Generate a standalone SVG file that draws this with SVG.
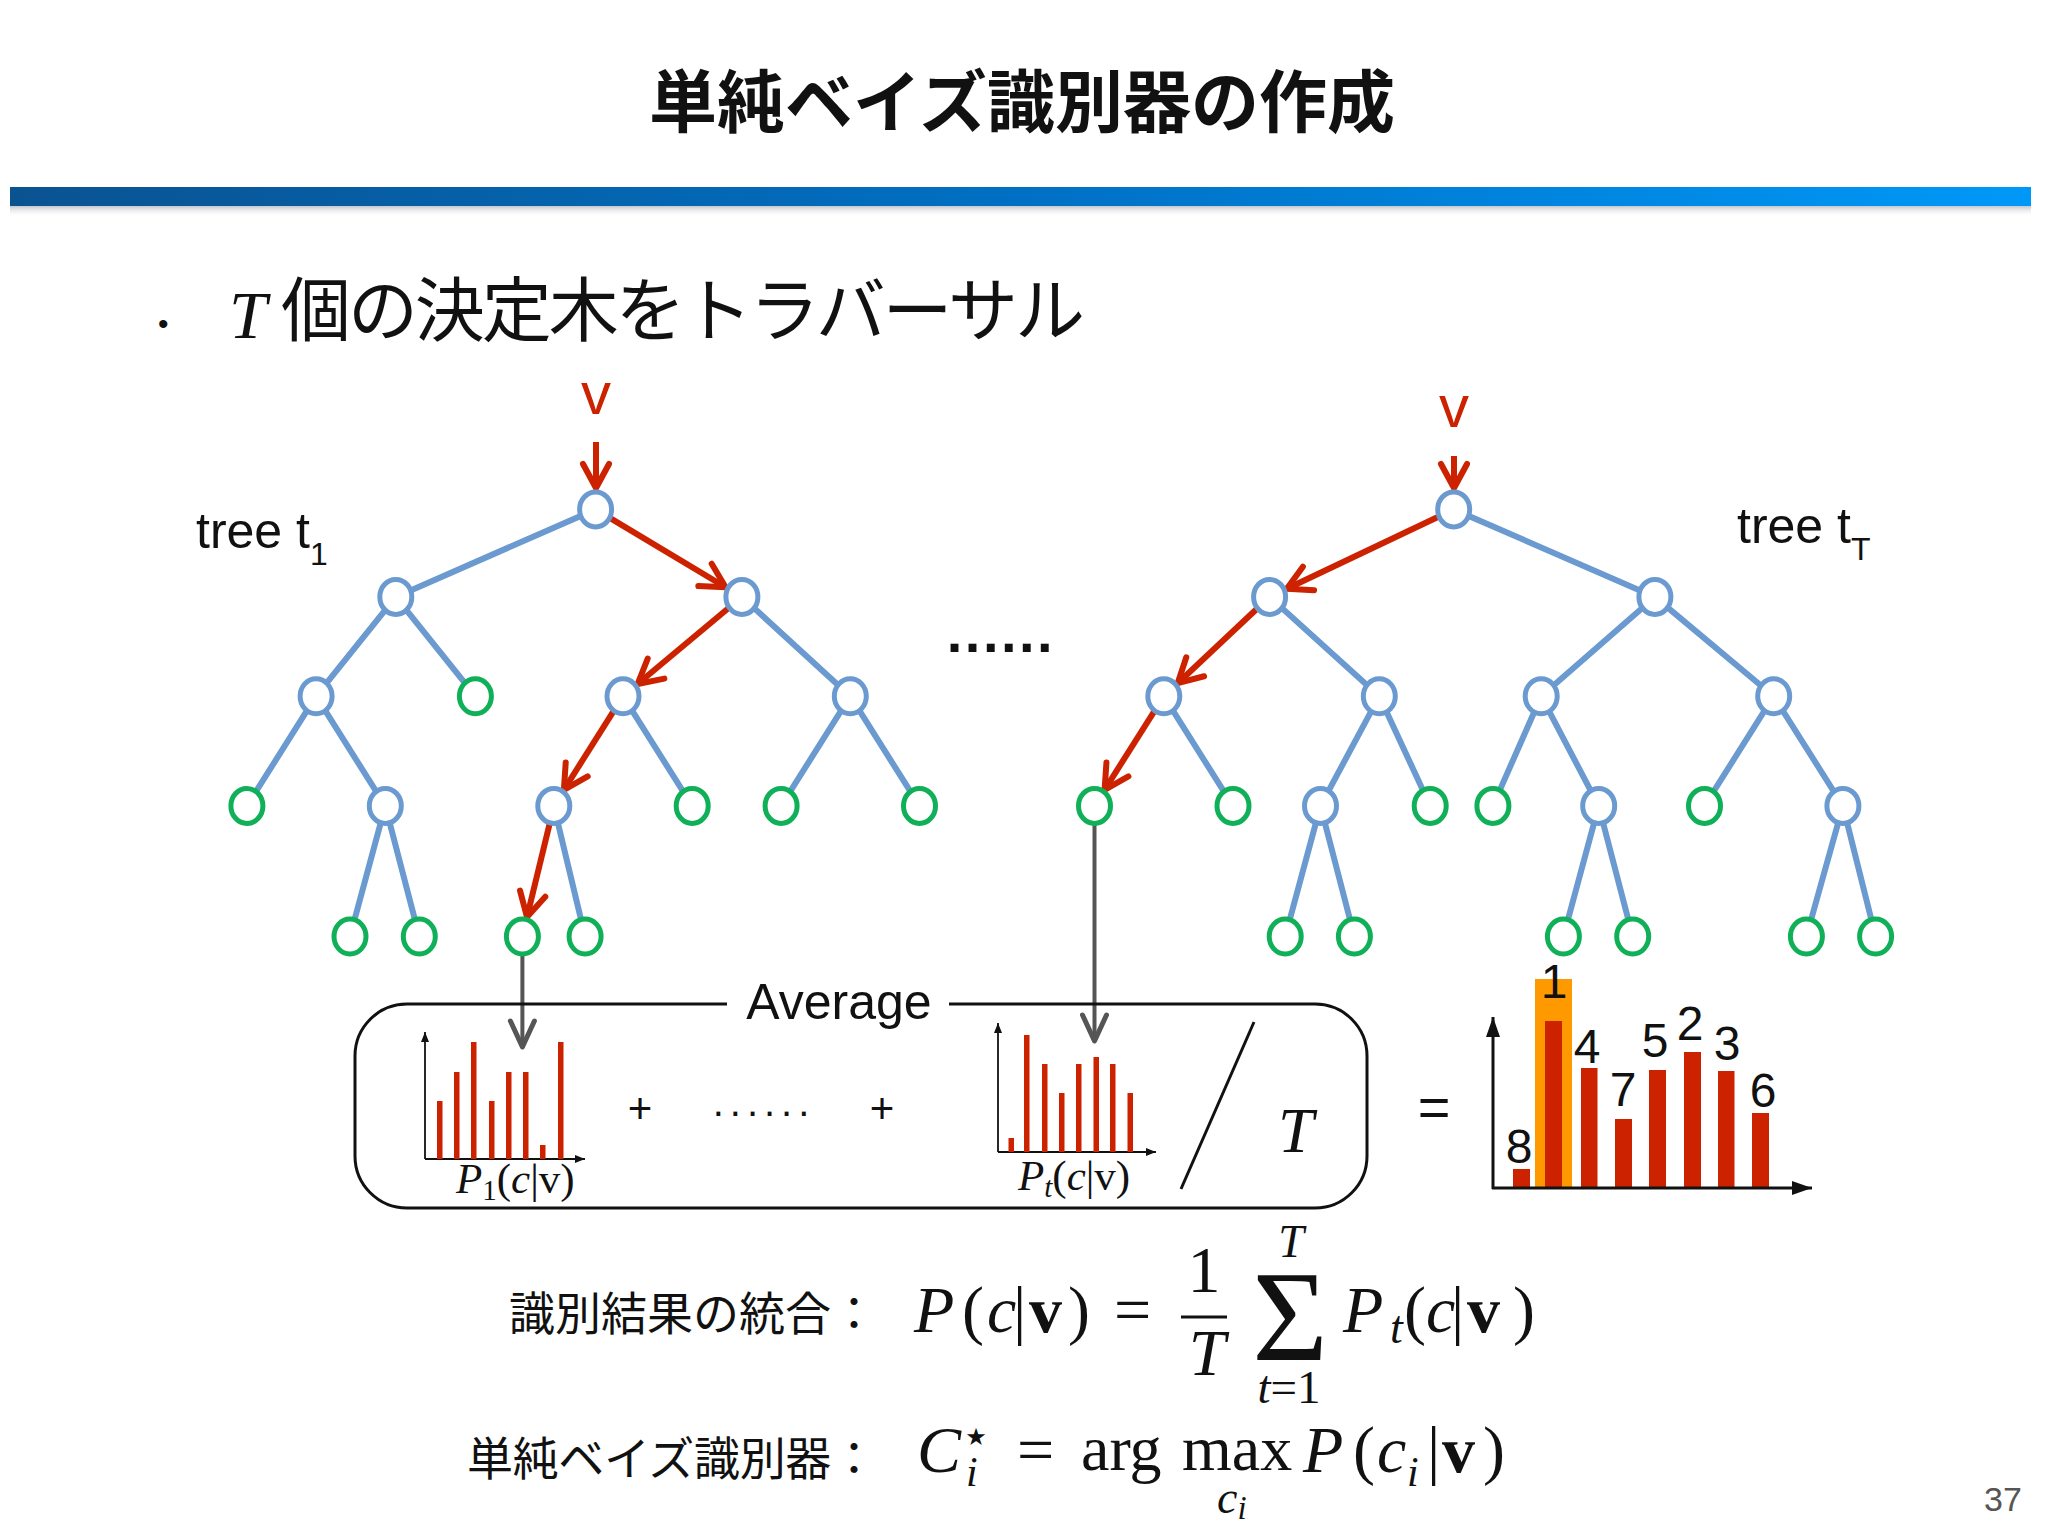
<svg xmlns="http://www.w3.org/2000/svg" width="2048" height="1536" viewBox="0 0 2048 1536">
<defs>
<linearGradient id="bar" x1="0" y1="0" x2="1" y2="0">
<stop offset="0" stop-color="#0a5391"/>
<stop offset="0.5" stop-color="#0070c4"/>
<stop offset="1" stop-color="#0098f8"/>
</linearGradient>
<linearGradient id="shadow" x1="0" y1="0" x2="0" y2="1">
<stop offset="0" stop-color="#9aa0a8" stop-opacity="0.7"/>
<stop offset="1" stop-color="#ffffff" stop-opacity="0"/>
</linearGradient>
<marker id="ar" viewBox="-30 -16 36 32" markerUnits="userSpaceOnUse" markerWidth="36" markerHeight="32" refX="0" refY="0" orient="auto" overflow="visible">
<path d="M-24,-13 L0,0 L-24,13" fill="none" stroke="#cc2200" stroke-width="6" stroke-linecap="round" stroke-linejoin="round"/>
</marker>
<marker id="ag" viewBox="-30 -16 36 32" markerUnits="userSpaceOnUse" markerWidth="36" markerHeight="32" refX="0" refY="0" orient="auto" overflow="visible">
<path d="M-26,-12 L0,0 L-26,12" fill="none" stroke="#555555" stroke-width="5" stroke-linecap="round" stroke-linejoin="round"/>
</marker>
<marker id="ax" viewBox="-12 -6 14 12" markerUnits="userSpaceOnUse" markerWidth="14" markerHeight="12" refX="0" refY="0" orient="auto" overflow="visible">
<path d="M0,0 L-10,-4 L-10,4 Z" fill="#111"/>
</marker>
<marker id="axb" viewBox="-22 -10 24 20" markerUnits="userSpaceOnUse" markerWidth="24" markerHeight="20" refX="0" refY="0" orient="auto" overflow="visible">
<path d="M0,0 L-20,-7 L-20,7 Z" fill="#111"/>
</marker>
<style>
.jp{font-family:'Liberation Sans','Noto Sans CJK JP',sans-serif;fill:#111}
.sans{font-family:'Liberation Sans',Arial,sans-serif;fill:#111}
.m{font-family:'Liberation Serif','Times New Roman',serif;fill:#111}
.it{font-style:italic}
.bf{font-weight:bold}
.in{fill:#fff;stroke:#6a9ad0;stroke-width:5}
.lf{fill:#fff;stroke:#10b058;stroke-width:5}
.e{stroke:#6a9ad0;stroke-width:6;fill:none;stroke-linecap:round}
.r{stroke:#cc2200;stroke-width:6;fill:none;marker-end:url(#ar)}
.g{stroke:#555;stroke-width:4;fill:none;marker-end:url(#ag)}
.bar{fill:#cc2200}
.axis{stroke:#111;stroke-width:1.8;fill:none;marker-end:url(#ax)}
.axisb{stroke:#111;stroke-width:3;fill:none;marker-end:url(#axb)}
</style>
</defs>
<rect width="2048" height="1536" fill="#fff"/>

<!-- title -->
<text class="jp" x="1022" y="127" font-size="68" font-weight="bold" text-anchor="middle">単純ベイズ識別器の作成</text>
<rect x="10" y="205" width="2021" height="12" fill="url(#shadow)"/>
<rect x="10" y="187" width="2021" height="19" fill="url(#bar)"/>

<!-- bullet line -->
<text class="sans" x="158" y="334" font-size="30">•</text>
<text class="m it" x="229" y="338" font-size="68">T</text>
<text class="jp" x="281" y="336" font-size="70" textLength="804" lengthAdjust="spacing">個の決定木をトラバーサル</text>

<!-- tree labels -->
<text class="sans" x="196" y="548" font-size="50">tree t<tspan font-size="32" dy="17">1</tspan></text>
<text class="sans" x="1737" y="543" font-size="50">tree t<tspan font-size="32" dy="17">T</tspan></text>
<text class="sans" x="596" y="414" font-size="60" style="fill:#cc2200" text-anchor="middle">v</text>
<text class="sans" x="1454" y="427" font-size="60" style="fill:#cc2200" text-anchor="middle">v</text>
<text class="sans bf" x="1001" y="652" font-size="56" text-anchor="middle" letter-spacing="2.5">......</text>

<!-- connectors -->
<g id="connectors">
<g id="edges-t1">
<line class="e" x1="595.6" y1="509.4" x2="395.8" y2="596.9"/>
<line class="e" x1="395.8" y1="596.9" x2="316.1" y2="696.2"/>
<line class="e" x1="395.8" y1="596.9" x2="475.4" y2="696.2"/>
<line class="e" x1="741.9" y1="596.9" x2="850.3" y2="696.2"/>
<line class="e" x1="316.1" y1="696.2" x2="246.9" y2="805.9"/>
<line class="e" x1="316.1" y1="696.2" x2="385.3" y2="805.9"/>
<line class="e" x1="623.0" y1="696.2" x2="692.2" y2="805.9"/>
<line class="e" x1="850.3" y1="696.2" x2="781.1" y2="805.9"/>
<line class="e" x1="850.3" y1="696.2" x2="919.5" y2="805.9"/>
<line class="e" x1="385.3" y1="805.9" x2="350.0" y2="936.5"/>
<line class="e" x1="385.3" y1="805.9" x2="419.3" y2="936.5"/>
<line class="e" x1="553.8" y1="805.9" x2="585.1" y2="936.5"/>
</g>
<g id="edges-tT">
<line class="e" x1="1453.7" y1="509.4" x2="1654.9" y2="596.9"/>
<line class="e" x1="1269.6" y1="596.9" x2="1379.3" y2="696.2"/>
<line class="e" x1="1654.9" y1="596.9" x2="1541.2" y2="696.2"/>
<line class="e" x1="1654.9" y1="596.9" x2="1773.7" y2="696.2"/>
<line class="e" x1="1163.8" y1="696.2" x2="1233.0" y2="805.9"/>
<line class="e" x1="1379.3" y1="696.2" x2="1320.5" y2="805.9"/>
<line class="e" x1="1379.3" y1="696.2" x2="1430.2" y2="805.9"/>
<line class="e" x1="1541.2" y1="696.2" x2="1492.9" y2="805.9"/>
<line class="e" x1="1541.2" y1="696.2" x2="1598.7" y2="805.9"/>
<line class="e" x1="1773.7" y1="696.2" x2="1704.5" y2="805.9"/>
<line class="e" x1="1773.7" y1="696.2" x2="1842.9" y2="805.9"/>
<line class="e" x1="1320.5" y1="805.9" x2="1285.2" y2="936.5"/>
<line class="e" x1="1320.5" y1="805.9" x2="1354.4" y2="936.5"/>
<line class="e" x1="1598.7" y1="805.9" x2="1563.4" y2="936.5"/>
<line class="e" x1="1598.7" y1="805.9" x2="1632.7" y2="936.5"/>
<line class="e" x1="1842.9" y1="805.9" x2="1806.4" y2="936.5"/>
<line class="e" x1="1842.9" y1="805.9" x2="1875.6" y2="936.5"/>
</g>
<g id="path-t1">
<line class="r" x1="596" y1="442" x2="596" y2="488"/>
<line class="r" x1="610.2" y1="518.1" x2="725.6" y2="587.2"/>
<line class="r" x1="728.9" y1="607.8" x2="637.6" y2="684.0"/>
<line class="r" x1="613.9" y1="710.6" x2="563.9" y2="789.8"/>
<line class="r" x1="549.8" y1="823" x2="527" y2="917"/>
</g>
<g id="path-tT">
<line class="r" x1="1454" y1="456" x2="1454" y2="488"/>
<line class="r" x1="1438.4" y1="516.7" x2="1286.8" y2="588.7"/>
<line class="r" x1="1257.2" y1="608.5" x2="1177.7" y2="683.2"/>
<line class="r" x1="1154.7" y1="710.6" x2="1104.6" y2="789.8"/>
</g>
<g id="to-hist">
<line class="g" x1="522.4" y1="955" x2="522.4" y2="1047"/>
<line class="g" x1="1094.5" y1="825" x2="1094.5" y2="1041"/>
</g>
</g>

<!-- tree 1 nodes -->
<g id="tree1">
<g id="t1-n0"><ellipse class="in" cx="595.6" cy="509.4" rx="16" ry="17.5"/></g>
<g id="t1-n1"><ellipse class="in" cx="395.8" cy="596.9" rx="16" ry="17.5"/></g>
<g id="t1-n2"><ellipse class="in" cx="741.9" cy="596.9" rx="16" ry="17.5"/></g>
<g id="t1-n3"><ellipse class="in" cx="316.1" cy="696.2" rx="16" ry="17.5"/></g>
<g id="t1-n4"><ellipse class="lf" cx="475.4" cy="696.2" rx="16" ry="17.5"/></g>
<g id="t1-n5"><ellipse class="in" cx="623.0" cy="696.2" rx="16" ry="17.5"/></g>
<g id="t1-n6"><ellipse class="in" cx="850.3" cy="696.2" rx="16" ry="17.5"/></g>
<g id="t1-n7"><ellipse class="lf" cx="246.9" cy="805.9" rx="16" ry="17.5"/></g>
<g id="t1-n8"><ellipse class="in" cx="385.3" cy="805.9" rx="16" ry="17.5"/></g>
<g id="t1-n9"><ellipse class="in" cx="553.8" cy="805.9" rx="16" ry="17.5"/></g>
<g id="t1-n10"><ellipse class="lf" cx="692.2" cy="805.9" rx="16" ry="17.5"/></g>
<g id="t1-n11"><ellipse class="lf" cx="781.1" cy="805.9" rx="16" ry="17.5"/></g>
<g id="t1-n12"><ellipse class="lf" cx="919.5" cy="805.9" rx="16" ry="17.5"/></g>
<g id="t1-n13"><ellipse class="lf" cx="350.0" cy="936.5" rx="16" ry="17.5"/></g>
<g id="t1-n14"><ellipse class="lf" cx="419.3" cy="936.5" rx="16" ry="17.5"/></g>
<g id="t1-n15"><ellipse class="lf" cx="522.4" cy="936.5" rx="16" ry="17.5"/></g>
<g id="t1-n16"><ellipse class="lf" cx="585.1" cy="936.5" rx="16" ry="17.5"/></g>
</g>

<!-- tree T nodes -->
<g id="treeT">
<g id="tT-n0"><ellipse class="in" cx="1453.7" cy="509.4" rx="16" ry="17.5"/></g>
<g id="tT-n1"><ellipse class="in" cx="1269.6" cy="596.9" rx="16" ry="17.5"/></g>
<g id="tT-n2"><ellipse class="in" cx="1654.9" cy="596.9" rx="16" ry="17.5"/></g>
<g id="tT-n3"><ellipse class="in" cx="1163.8" cy="696.2" rx="16" ry="17.5"/></g>
<g id="tT-n4"><ellipse class="in" cx="1379.3" cy="696.2" rx="16" ry="17.5"/></g>
<g id="tT-n5"><ellipse class="in" cx="1541.2" cy="696.2" rx="16" ry="17.5"/></g>
<g id="tT-n6"><ellipse class="in" cx="1773.7" cy="696.2" rx="16" ry="17.5"/></g>
<g id="tT-n7"><ellipse class="lf" cx="1094.5" cy="805.9" rx="16" ry="17.5"/></g>
<g id="tT-n8"><ellipse class="lf" cx="1233.0" cy="805.9" rx="16" ry="17.5"/></g>
<g id="tT-n9"><ellipse class="in" cx="1320.5" cy="805.9" rx="16" ry="17.5"/></g>
<g id="tT-n10"><ellipse class="lf" cx="1430.2" cy="805.9" rx="16" ry="17.5"/></g>
<g id="tT-n11"><ellipse class="lf" cx="1492.9" cy="805.9" rx="16" ry="17.5"/></g>
<g id="tT-n12"><ellipse class="in" cx="1598.7" cy="805.9" rx="16" ry="17.5"/></g>
<g id="tT-n13"><ellipse class="lf" cx="1704.5" cy="805.9" rx="16" ry="17.5"/></g>
<g id="tT-n14"><ellipse class="in" cx="1842.9" cy="805.9" rx="16" ry="17.5"/></g>
<g id="tT-n15"><ellipse class="lf" cx="1285.2" cy="936.5" rx="16" ry="17.5"/></g>
<g id="tT-n16"><ellipse class="lf" cx="1354.4" cy="936.5" rx="16" ry="17.5"/></g>
<g id="tT-n17"><ellipse class="lf" cx="1563.4" cy="936.5" rx="16" ry="17.5"/></g>
<g id="tT-n18"><ellipse class="lf" cx="1632.7" cy="936.5" rx="16" ry="17.5"/></g>
<g id="tT-n19"><ellipse class="lf" cx="1806.4" cy="936.5" rx="16" ry="17.5"/></g>
<g id="tT-n20"><ellipse class="lf" cx="1875.6" cy="936.5" rx="16" ry="17.5"/></g>
</g>

<!-- average box -->
<g id="average-box">
<rect x="355" y="1004" width="1012" height="204" rx="52" fill="none" stroke="#111" stroke-width="3"/>
<rect x="727" y="994" width="222" height="22" fill="#fff"/>
<text class="sans" x="839" y="1019" font-size="50" text-anchor="middle">Average</text>
</g>

<!-- histogram 1 -->
<g id="hist-1">
<line class="axis" x1="425" y1="1159" x2="425" y2="1032"/>
<line class="axis" x1="425" y1="1159" x2="585" y2="1159"/>
<rect class="bar" x="437" y="1101" width="5.5" height="58"/>
<rect class="bar" x="454" y="1072" width="5.5" height="87"/>
<rect class="bar" x="471" y="1042" width="5.5" height="117"/>
<rect class="bar" x="489" y="1101" width="5.5" height="58"/>
<rect class="bar" x="506" y="1072" width="5.5" height="87"/>
<rect class="bar" x="523" y="1072" width="5.5" height="87"/>
<rect class="bar" x="540" y="1145" width="5.5" height="14"/>
<rect class="bar" x="558" y="1042" width="5.5" height="117"/>
<text class="m" x="456" y="1193" font-size="43"><tspan class="it">P</tspan><tspan font-size="29" dy="7">1</tspan><tspan dy="-7">(</tspan><tspan class="it">c</tspan>|v)</text>
</g>

<text class="sans" x="640" y="1123" font-size="42" text-anchor="middle">+</text>
<text class="sans" x="764" y="1116" font-size="40" text-anchor="middle" letter-spacing="6">......</text>
<text class="sans" x="882" y="1123" font-size="42" text-anchor="middle">+</text>

<!-- histogram t -->
<g id="hist-t">
<line class="axis" x1="998" y1="1152" x2="998" y2="1023"/>
<line class="axis" x1="998" y1="1152" x2="1156" y2="1152"/>
<rect class="bar" x="1008.5" y="1138" width="5.5" height="14"/>
<rect class="bar" x="1024" y="1035" width="5.5" height="117"/>
<rect class="bar" x="1042" y="1064" width="5.5" height="88"/>
<rect class="bar" x="1059" y="1093" width="5.5" height="59"/>
<rect class="bar" x="1076" y="1064" width="5.5" height="88"/>
<rect class="bar" x="1093.5" y="1057" width="5.5" height="95"/>
<rect class="bar" x="1110" y="1064" width="5.5" height="88"/>
<rect class="bar" x="1127.5" y="1093" width="5.5" height="59"/>
<text class="m" x="1018" y="1190" font-size="43"><tspan class="it">P</tspan><tspan class="it" font-size="29" dy="7">t</tspan><tspan dy="-7">(</tspan><tspan class="it">c</tspan>|v)</text>
</g>

<line x1="1254" y1="1022" x2="1181" y2="1189" stroke="#111" stroke-width="3"/>
<text class="m it" x="1278" y="1152" font-size="64">T</text>

<text class="sans" x="1434" y="1126" font-size="56" text-anchor="middle">=</text>

<!-- result histogram -->
<g id="hist-result">
<rect x="1535" y="979" width="37" height="209" fill="#ff9900"/>
<rect class="bar" x="1513" y="1169" width="17" height="19"/>
<rect class="bar" x="1545" y="1021" width="17" height="167"/>
<rect class="bar" x="1581" y="1068" width="16.5" height="120"/>
<rect class="bar" x="1615" y="1119" width="17" height="69"/>
<rect class="bar" x="1649" y="1070" width="17" height="118"/>
<rect class="bar" x="1684" y="1052" width="17" height="136"/>
<rect class="bar" x="1718" y="1071" width="16.5" height="117"/>
<rect class="bar" x="1752" y="1113" width="17" height="75"/>
<line class="axisb" x1="1493" y1="1189" x2="1493" y2="1017"/>
<line class="axisb" x1="1492" y1="1188" x2="1812" y2="1188"/>
<g class="sans" font-size="48" text-anchor="middle">
<text x="1519" y="1163">8</text>
<text x="1554" y="998">1</text>
<text x="1587" y="1063">4</text>
<text x="1623" y="1106">7</text>
<text x="1655" y="1057">5</text>
<text x="1690" y="1040">2</text>
<text x="1727" y="1060">3</text>
<text x="1763" y="1107">6</text>
</g>
</g>

<!-- formulas -->
<text class="jp" x="509" y="1330" font-size="46" textLength="368" lengthAdjust="spacing">識別結果の統合：</text>
<text class="jp" x="467" y="1475" font-size="46" textLength="410" lengthAdjust="spacing">単純ベイズ識別器：</text>

<g id="formula-1" class="m" font-size="66">
<text x="914" y="1332" class="m it">P</text>
<text x="962" y="1332" class="m">(</text>
<text x="987" y="1332" class="m it">c</text>
<text x="1013" y="1332" class="m">|</text>
<text x="1029" y="1332" class="m bf">v</text>
<text x="1068" y="1332" class="m">)</text>
<text x="1114" y="1332" class="m">=</text>
<text x="1204" y="1292" class="m" text-anchor="middle">1</text>
<line x1="1181" y1="1317" x2="1227" y2="1317" stroke="#111" stroke-width="3"/>
<text x="1207" y="1375" class="m it" text-anchor="middle">T</text>
<text x="1290" y="1360" class="m" font-size="130" text-anchor="middle">Σ</text>
<text x="1291" y="1257" class="m it" font-size="46" text-anchor="middle">T</text>
<text x="1289" y="1403" class="m" font-size="47" text-anchor="middle"><tspan class="it">t</tspan>=1</text>
<text x="1343" y="1332" class="m it">P</text>
<text x="1390" y="1343" class="m it" font-size="46">t</text>
<text x="1404" y="1332" class="m">(</text>
<text x="1426" y="1332" class="m it">c</text>
<text x="1451" y="1332" class="m">|</text>
<text x="1467" y="1332" class="m bf">v</text>
<text x="1513" y="1332" class="m">)</text>
</g>

<g id="formula-2" class="m" font-size="66">
<text x="917" y="1472" class="m it">C</text>
<text x="976" y="1445" font-family="'DejaVu Sans',sans-serif" font-size="24" fill="#111" text-anchor="middle">★</text>
<text x="966" y="1486" class="m it" font-size="42">i</text>
<text x="1017" y="1472" class="m">=</text>
<text x="1081" y="1470" class="m" font-size="64">arg</text>
<text x="1182" y="1470" class="m" font-size="64">max</text>
<text x="1217" y="1513" class="m it" font-size="46">c<tspan font-size="33" dy="6">i</tspan></text>
<text x="1303" y="1472" class="m it">P</text>
<text x="1353" y="1472" class="m">(</text>
<text x="1377" y="1472" class="m it">c</text>
<text x="1407" y="1486" class="m it" font-size="42">i</text>
<text x="1427" y="1472" class="m">|</text>
<text x="1442" y="1472" class="m bf">v</text>
<text x="1483" y="1472" class="m">)</text>
</g>

<text class="sans" x="1984" y="1511" font-size="34" style="fill:#555">37</text>
</svg>
